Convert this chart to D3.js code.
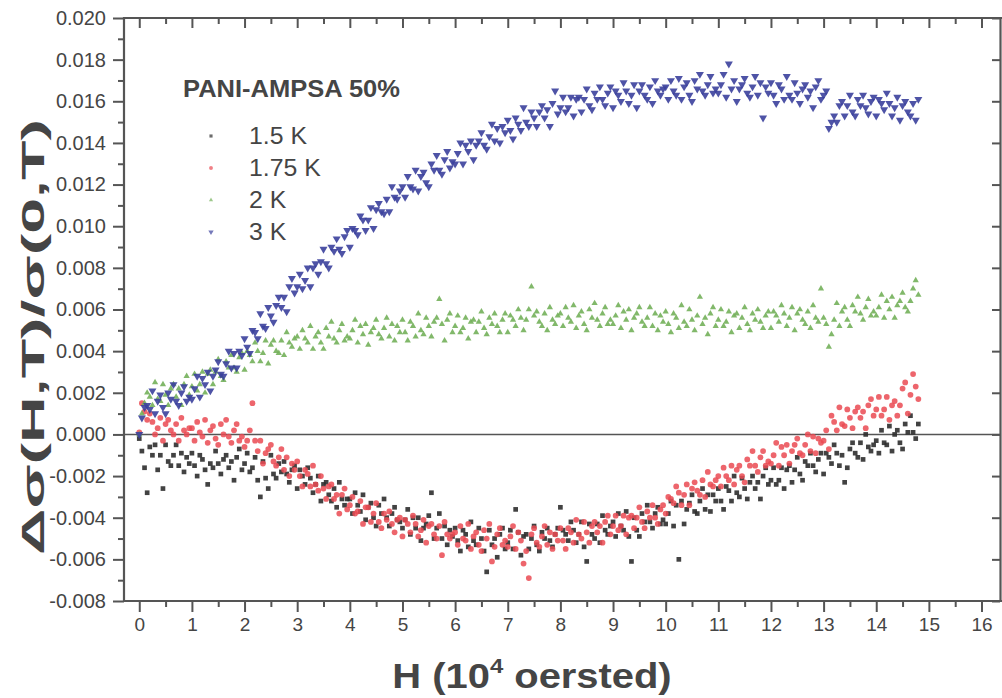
<!DOCTYPE html>
<html><head><meta charset="utf-8">
<script src="https://cdn.jsdelivr.net/npm/d3@7"></script>
<style>
html,body{margin:0;padding:0;background:#fff;}
svg{display:block;font-family:"Liberation Sans",Arial,sans-serif;}
</style></head>
<body><svg id="chart" width="1002" height="698"></svg>
<script>
// Magnetic field H (10^4 oersted)
const fieldH = [
0,0.05,0.1,0.15,0.2,0.25,0.3,0.35,0.4,0.45,0.5,0.55,0.6,0.65,0.7,0.75,0.8,0.85,0.9,0.95,
1,1.05,1.1,1.15,1.2,1.25,1.3,1.35,1.4,1.45,1.5,1.55,1.6,1.65,1.7,1.75,1.8,1.85,1.9,1.95,
2,2.05,2.1,2.15,2.2,2.25,2.3,2.35,2.4,2.45,2.5,2.55,2.6,2.65,2.7,2.75,2.8,2.85,2.9,2.95,
3,3.05,3.1,3.15,3.2,3.25,3.3,3.35,3.4,3.45,3.5,3.55,3.6,3.65,3.7,3.75,3.8,3.85,3.9,3.95,
4,4.05,4.1,4.15,4.2,4.25,4.3,4.35,4.4,4.45,4.5,4.55,4.6,4.65,4.7,4.75,4.8,4.85,4.9,4.95,
5,5.05,5.1,5.15,5.2,5.25,5.3,5.35,5.4,5.45,5.5,5.55,5.6,5.65,5.7,5.75,5.8,5.85,5.9,5.95,
6,6.05,6.1,6.15,6.2,6.25,6.3,6.35,6.4,6.45,6.5,6.55,6.6,6.65,6.7,6.75,6.8,6.85,6.9,6.95,
7,7.05,7.1,7.15,7.2,7.25,7.3,7.35,7.4,7.45,7.5,7.55,7.6,7.65,7.7,7.75,7.8,7.85,7.9,7.95,
8,8.05,8.1,8.15,8.2,8.25,8.3,8.35,8.4,8.45,8.5,8.55,8.6,8.65,8.7,8.75,8.8,8.85,8.9,8.95,
9,9.05,9.1,9.15,9.2,9.25,9.3,9.35,9.4,9.45,9.5,9.55,9.6,9.65,9.7,9.75,9.8,9.85,9.9,9.95,
10,10.05,10.1,10.15,10.2,10.25,10.3,10.35,10.4,10.45,10.5,10.55,10.6,10.65,10.7,10.75,10.8,10.85,10.9,10.95,
11,11.05,11.1,11.15,11.2,11.25,11.3,11.35,11.4,11.45,11.5,11.55,11.6,11.65,11.7,11.75,11.8,11.85,11.9,11.95,
12,12.05,12.1,12.15,12.2,12.25,12.3,12.35,12.4,12.45,12.5,12.55,12.6,12.65,12.7,12.75,12.8,12.85,12.9,12.95,
13,13.05,13.1,13.15,13.2,13.25,13.3,13.35,13.4,13.45,13.5,13.55,13.6,13.65,13.7,13.75,13.8,13.85,13.9,13.95,
14,14.05,14.1,14.15,14.2,14.25,14.3,14.35,14.4,14.45,14.5,14.55,14.6,14.65,14.7,14.75,14.8
];

// Δσ(H,T)/σ(0,T) in units of 10^-3
const dSigma_1p5K = [
-0.2,-0.8,-1.6,-2.8,-0.6,-1.0,-0.5,-1.7,-1.0,-2.6,-0.5,-1.3,-1.5,-1.0,-0.5,-1.5,-0.9,-1.8,-1.1,-1.4,
-0.9,-1.5,-2.0,-1.0,-1.2,-1.7,-2.4,-1.4,-1.6,-0.8,-1.4,-1.9,-1.2,-1.0,-1.6,-1.3,-2.2,-1.1,-0.7,-1.7,
-1.4,-0.9,-1.8,-1.6,-1.1,-2.2,-3.0,-1.3,-2.1,-2.6,-1.0,-1.9,-2.1,-1.4,-1.8,-1.3,-1.9,-2.3,-1.7,-1.5,
-2.6,-1.7,-2.0,-2.4,-1.6,-2.1,-2.8,-2.4,-2.0,-3.2,-2.4,-2.3,-2.9,-3.2,-2.6,-3.5,-2.3,-3.1,-3.4,-3.1,
-3.1,-3.8,-2.8,-3.4,-3.7,-2.9,-4.1,-3.5,-3.3,-4.0,-4.4,-3.4,-3.8,-3.1,-4.0,-4.4,-3.8,-3.5,-4.1,-4.2,
-4.5,-4.1,-3.6,-4.8,-4.0,-4.5,-4.0,-5.1,-4.5,-4.3,-3.9,-2.8,-5.0,-4.5,-3.8,-5.0,-4.4,-5.3,-4.6,-4.9,
-4.5,-5.1,-5.6,-4.6,-4.8,-5.4,-4.2,-5.1,-5.3,-4.5,-5.0,-5.6,-6.6,-4.6,-5.3,-5.0,-5.9,-4.8,-4.5,-5.5,
-5.2,-4.6,-5.5,-3.6,-4.7,-5.8,-4.9,-4.8,-5.5,-5.0,-4.4,-5.3,-5.6,-4.7,-5.0,-4.5,-5.1,-5.4,-4.8,-4.5,
-3.5,-4.6,-4.8,-5.1,-4.2,-4.6,-5.2,-4.8,-4.2,-5.4,-6.1,-4.3,-4.8,-5.0,-4.3,-5.2,-3.9,-4.6,-4.8,-4.4,
-4.2,-4.9,-3.8,-4.4,-4.6,-3.7,-4.9,-6.1,-4.0,-4.6,-4.9,-3.8,-4.2,-3.4,-4.2,-4.5,-3.8,-3.5,-4.3,-4.1,
-4.3,-3.8,-3.2,-4.4,-3.4,-6.0,-3.2,-4.3,-3.6,-3.3,-2.9,-3.7,-3.8,-3.2,-2.6,-3.6,-2.9,-3.7,-2.9,-3.2,
-2.6,-3.2,-3.6,-2.5,-2.7,-3.2,-2.0,-2.8,-3.0,-2.1,-2.6,-3.1,-2.3,-2.0,-2.6,-2.3,-3.1,-2.0,-1.6,-2.4,
-2.2,-1.6,-2.4,-2.2,-1.6,-2.6,-1.7,-1.5,-2.3,-1.7,-1.1,-1.9,-2.2,-1.3,-1.5,-0.9,-1.5,-1.8,-1.2,-0.9,
-1.9,-0.9,-1.1,-1.4,-0.5,-0.9,-1.5,-1.0,-2.3,-1.6,-0.7,-0.4,-0.9,-1.1,-0.4,-1.2,0.0,-0.6,-0.8,-0.5,
-0.3,-0.9,0.2,-0.4,-0.5,0.4,-0.8,0.0,0.2,-0.4,-0.7,0.5,0.1,0.9,0.1,-0.2,0.5
];
const dSigma_1p75K = [
0.1,1.5,1.1,0.7,1.0,0.6,0.0,0.3,0.8,-0.3,0.5,0.7,0.2,0.0,0.5,-0.3,0.8,0.2,0.0,0.3,
0.3,-0.3,0.6,0.1,-0.1,0.7,-0.4,0.2,0.4,-0.2,-0.5,0.5,0.0,0.7,-0.1,-0.4,0.2,0.5,-0.3,-0.1,
-0.6,-0.3,0.2,1.5,-0.3,-0.8,-0.3,-1.4,-0.9,-0.7,-0.5,-1.3,-1.5,-1.1,-0.7,-1.7,-1.1,-2.0,-1.4,-1.7,
-1.3,-2.0,-2.5,-1.7,-1.9,-2.5,-1.5,-2.4,-2.7,-2.0,-2.6,-3.1,-2.5,-2.4,-3.1,-2.9,-3.8,-2.9,-2.6,-3.6,
-3.4,-3.0,-3.8,-3.7,-3.2,-4.3,-3.5,-3.5,-4.2,-3.8,-3.3,-4.2,-4.5,-3.8,-4.1,-3.7,-4.3,-4.7,-4.1,-4.0,
-4.9,-4.1,-4.3,-4.7,-3.9,-4.3,-4.9,-4.6,-4.1,-5.2,-4.4,-4.3,-4.8,-5.0,-4.4,-5.8,-4.2,-4.8,-5.0,-4.8,
-4.7,-5.3,-4.4,-5.0,-5.1,-4.3,-5.5,-4.9,-4.7,-5.3,-5.6,-4.6,-5.0,-4.3,-6.1,-5.4,-4.8,-4.5,-5.3,-5.1,
-5.4,-4.9,-4.4,-5.5,-4.7,-5.1,-6.2,-5.6,-6.9,-4.8,-4.5,-5.2,-5.4,-4.9,-4.4,-5.3,-4.7,-5.5,-4.8,-5.1,
-4.5,-5.1,-5.5,-4.5,-4.7,-5.2,-4.1,-4.8,-5.0,-4.2,-4.7,-5.2,-4.4,-4.2,-4.7,-4.4,-5.2,-4.2,-3.9,-4.8,
-4.4,-3.9,-4.6,-4.4,-3.9,-4.8,-4.0,-3.9,-4.5,-4.0,-3.5,-4.2,-4.5,-3.7,-4.0,-3.4,-4.0,-4.3,-3.6,-3.4,
-3.8,-3.0,-3.1,-3.3,-2.5,-2.8,-3.4,-2.9,-2.4,-3.4,-2.6,-2.3,-2.7,-2.9,-2.2,-3.0,-1.8,-2.4,-2.5,-2.2,
-2.0,-2.5,-1.6,-2.0,-2.2,-1.5,-2.4,-1.7,-1.5,-2.0,-2.3,-1.2,-1.5,-0.8,-1.5,-1.8,-1.1,-0.8,-1.5,-1.3,
-1.4,-1.0,-0.4,-1.5,-0.6,-1.0,-0.5,-1.4,-0.8,-0.5,-0.2,-0.9,-1.0,-0.5,0.0,-0.8,-0.1,-0.9,-0.2,-0.4,
-0.3,0.2,-0.7,0.9,0.6,0.2,1.3,0.5,0.4,1.2,0.8,0.3,1.1,1.3,0.8,1.1,0.3,1.4,1.7,0.9,
1.2,1.8,0.9,1.2,1.8,0.7,1.4,1.6,0.9,1.4,2.2,2.5,1.0,1.9,2.9,2.3,1.7
];
const dSigma_2K = [
0.0,1.0,1.5,2.0,1.8,1.4,2.5,1.7,1.6,2.4,1.9,1.4,2.2,2.4,1.8,2.2,1.4,2.4,2.8,1.9,
2.3,2.9,2.1,2.4,3.0,2.0,2.9,3.1,2.4,3.0,3.6,2.8,2.6,3.5,3.2,3.8,3.2,3.0,3.7,3.9,
3.1,4.0,3.8,3.5,4.4,4.0,3.5,3.9,4.5,3.4,4.3,4.5,4.0,3.9,4.5,3.8,4.9,4.4,4.2,4.6,
4.7,4.1,5.0,4.6,4.4,5.2,4.1,4.7,4.9,4.4,4.1,5.1,4.7,5.4,4.6,4.4,5.0,5.3,4.5,4.7,
4.6,5.0,5.5,4.4,5.2,4.8,5.3,4.3,4.9,5.1,5.5,4.8,4.6,5.1,5.6,4.7,5.3,4.5,5.2,4.9,
5.5,4.9,4.5,5.4,5.2,4.7,5.8,5.0,4.8,5.6,5.2,4.7,5.4,5.6,6.5,5.3,4.5,5.5,5.8,4.9,
5.2,5.7,4.9,5.1,5.6,4.6,5.4,5.5,4.9,5.4,5.9,5.1,4.8,5.6,5.3,5.8,5.2,4.9,5.5,5.8,
4.9,5.7,5.5,5.2,6.0,5.6,5.0,5.5,6.0,7.1,5.7,5.9,5.4,5.2,5.8,5.0,6.1,5.5,5.3,5.7,
5.8,5.2,6.1,5.6,5.4,6.2,5.1,5.7,5.9,5.3,5.0,6.0,5.6,6.3,5.5,5.2,5.8,6.1,5.3,5.5,
5.3,5.7,6.2,5.1,5.9,5.5,6.0,5.0,5.6,5.8,6.1,5.4,5.2,5.6,6.1,5.2,5.8,5.0,5.7,5.4,
5.9,5.3,4.9,5.8,5.6,5.1,6.2,5.4,5.2,6.0,5.5,5.0,5.7,6.6,5.3,5.6,4.8,5.8,6.1,5.2,
5.5,6.0,5.2,5.4,5.9,4.9,5.7,5.8,5.1,5.6,6.1,5.3,5.0,5.8,5.5,6.0,5.4,5.1,5.7,5.9,
5.1,5.9,5.7,5.4,6.2,5.8,5.2,5.6,6.1,5.0,5.8,6.0,5.5,5.3,5.9,5.1,6.2,5.6,5.4,7.0,
5.6,5.3,4.2,4.8,5.5,6.3,5.2,5.9,6.1,5.5,5.2,6.2,5.9,6.6,5.8,5.5,6.1,6.5,5.7,5.9,
5.7,6.1,6.7,5.6,6.4,6.0,6.6,5.6,6.2,6.4,6.8,6.1,5.9,6.4,7.0,7.4,6.7
];
const dSigma_3K = [
0.0,0.8,1.3,1.4,1.2,2.1,1.0,1.6,1.9,1.3,1.0,2.0,1.7,2.4,1.6,1.4,2.0,2.3,1.6,1.8,
1.7,2.2,2.8,1.8,2.7,2.4,3.0,2.1,2.8,3.1,3.5,2.9,2.8,3.4,4.0,3.2,3.9,3.2,4.0,3.8,
4.6,4.2,3.9,5.0,4.9,4.6,5.8,5.2,5.1,6.1,5.7,5.4,6.2,6.6,6.1,6.6,5.9,7.1,7.5,6.8,
7.1,7.7,7.0,7.4,8.0,7.1,8.0,8.2,7.7,8.3,8.9,8.2,8.0,9.0,8.8,9.4,8.9,8.7,9.5,9.8,
9.0,9.9,9.8,9.6,10.5,10.3,9.8,10.3,10.9,9.9,10.8,11.1,10.7,10.6,11.3,10.7,11.9,11.4,11.3,11.7,
11.9,11.4,12.4,11.9,11.8,12.7,11.7,12.4,12.6,12.1,11.9,13.0,12.7,13.4,12.7,12.5,13.2,13.6,12.8,13.1,
13.0,13.5,14.0,13.0,13.9,13.6,14.1,13.2,13.9,14.1,14.5,13.9,13.7,14.3,14.9,14.1,14.7,14.0,14.8,14.5,
15.1,14.6,14.2,15.2,14.9,14.6,15.7,15.0,14.8,15.5,15.2,14.8,15.5,15.8,15.2,15.6,14.8,15.9,16.5,15.4,
15.7,16.2,15.5,15.7,16.2,15.3,16.1,16.2,15.5,16.1,16.6,15.8,15.6,16.4,16.1,16.7,16.1,15.8,16.4,16.7,
15.7,16.5,16.3,16.0,16.9,16.5,15.9,16.3,16.8,15.7,16.5,16.8,16.3,16.1,16.7,15.9,17.0,16.5,16.3,16.6,
16.7,16.1,17.0,16.5,16.3,17.1,16.1,16.7,16.9,16.3,16.0,17.0,16.6,17.3,16.5,16.3,16.8,17.2,16.4,16.6,
16.4,16.8,17.3,16.2,17.8,16.6,17.0,16.0,16.6,16.8,17.1,16.4,16.2,16.7,17.2,16.3,16.9,15.2,16.7,16.4,
16.9,16.3,15.9,16.8,16.6,16.1,17.2,16.3,16.1,16.9,16.4,15.9,16.6,16.8,16.2,16.5,15.7,16.7,17.0,16.1,
16.3,16.5,14.7,15.0,15.3,15.0,15.8,16.0,15.3,15.8,16.3,15.5,15.3,16.1,15.8,16.3,15.7,15.4,16.0,16.2,
15.3,16.1,15.9,15.6,16.4,15.9,15.3,15.7,16.2,15.1,15.8,16.0,15.5,15.3,15.9,15.1,16.1
];

const seriesNames = ["1.5 K", "1.75 K", "2 K", "3 K"];
const xTickValues = [0,1,2,3,4,5,6,7,8,9,10,11,12,13,14,15,16];
const yTickValues = [-0.008,-0.006,-0.004,-0.002,0,0.002,0.004,0.006,0.008,0.010,0.012,0.014,0.016,0.018,0.020];
const yTickLabels = ["-0.008","-0.006","-0.004","-0.002","0.000","0.002","0.004","0.006","0.008","0.010","0.012","0.014","0.016","0.018","0.020"];
const legendTitle = "PANI-AMPSA 50%";

const svg = d3.select("#chart");
svg.append("rect").attr("width",1002).attr("height",698).attr("fill","#fff");

const x = d3.scaleLinear().domain([-0.29, 16.37]).range([124, 1001]);
const y = d3.scaleLinear().domain([-0.008, 0.020]).range([601, 18]);

const axisColor = "#555";
const textColor = "#454545";

// series styles
const styles = [
  {data: dSigma_1p5K, sym: d3.symbolSquare, size: 22, rot: 0, color: "#2e2e2e", op: 0.9},
  {data: dSigma_1p75K, sym: d3.symbolCircle, size: 26, rot: 0, color: "#ea4a52", op: 0.85},
  {data: dSigma_2K, sym: d3.symbolTriangle, size: 17, rot: 0, color: "#73b05a", op: 0.9},
  {data: dSigma_3K, sym: d3.symbolTriangle, size: 28, rot: 180, color: "#3b409c", op: 0.9}
];

// zero line
svg.append("line").attr("x1", x.range()[0]).attr("x2", x.range()[1])
  .attr("y1", y(0)).attr("y2", y(0)).attr("stroke", "#555").attr("stroke-width", 1.6);

// points
styles.forEach(s => {
  const pts = fieldH.map((h, i) => ({h, v: s.data[i]})).filter(d => d.v !== undefined);
  svg.append("g").selectAll("path").data(pts).join("path")
    .attr("d", d3.symbol().type(s.sym).size(s.size))
    .attr("transform", d => `translate(${x(d.h)},${y(d.v / 1000)}) rotate(${s.rot})`)
    .attr("fill", s.color).attr("fill-opacity", s.op);
});

// axes
const minorX = d3.range(0, 16.01, 0.5).filter(v => v % 1 !== 0);
const minorY = d3.range(-0.007, 0.0201, 0.002);

function styleAxis(g) {
  g.select(".domain").remove();
  g.selectAll("line").attr("stroke", axisColor).attr("stroke-width", 2);
  g.selectAll("text").attr("fill", textColor);
}

// bottom
svg.append("g").attr("transform", "translate(0,601)")
  .call(d3.axisBottom(x).tickValues(xTickValues).tickSize(11).tickPadding(6).tickFormat(d3.format("d")))
  .call(styleAxis).call(g => g.selectAll("text").attr("font-size", 19).attr("font-family", "Liberation Sans, Arial, sans-serif"));
svg.append("g").attr("transform", "translate(0,601)")
  .call(d3.axisBottom(x).tickValues(minorX).tickSize(6).tickFormat(""))
  .call(styleAxis);
// top (inward)
svg.append("g").attr("transform", "translate(0,18)")
  .call(d3.axisBottom(x).tickValues(xTickValues).tickSize(10).tickFormat(""))
  .call(styleAxis);
svg.append("g").attr("transform", "translate(0,18)")
  .call(d3.axisBottom(x).tickValues(minorX).tickSize(6).tickFormat(""))
  .call(styleAxis);
// left
svg.append("g").attr("transform", "translate(124,0)")
  .call(d3.axisLeft(y).tickValues(yTickValues).tickSize(11).tickPadding(7).tickFormat((d, i) => yTickLabels[i]))
  .call(styleAxis).call(g => g.selectAll("text").attr("font-size", 20).attr("font-family", "Liberation Sans, Arial, sans-serif"));
svg.append("g").attr("transform", "translate(124,0)")
  .call(d3.axisLeft(y).tickValues(minorY).tickSize(6).tickFormat(""))
  .call(styleAxis);
// right (inward, major only)
svg.append("g").attr("transform", "translate(1000,0)")
  .call(d3.axisLeft(y).tickValues(yTickValues).tickSize(8).tickFormat(""))
  .call(styleAxis);

// frame lines
const frame = svg.append("g").attr("stroke", axisColor).attr("stroke-width", 2.2);
frame.append("line").attr("x1", 124).attr("x2", 124).attr("y1", 17).attr("y2", 602);
frame.append("line").attr("x1", 123).attr("x2", 1002).attr("y1", 601).attr("y2", 601);
frame.append("line").attr("x1", 123).attr("x2", 1002).attr("y1", 18).attr("y2", 18);
frame.append("line").attr("x1", 1000.5).attr("x2", 1000.5).attr("y1", 17).attr("y2", 602);

// axis titles
svg.append("g").attr("transform", "translate(532,688) scale(1.14,1)")
  .append("text").attr("text-anchor", "middle")
  .attr("font-size", 35).attr("font-weight", "bold").attr("fill", textColor)
  .call(t => {
    t.append("tspan").text("H (10");
    t.append("tspan").attr("font-size", 21).attr("dy", -15).text("4");
    t.append("tspan").attr("dy", 15).text(" oersted)");
  });
svg.append("text").attr("transform", "translate(44,337) rotate(-90)").attr("text-anchor", "middle")
  .attr("font-size", 32).attr("font-weight", "bold").attr("fill", textColor)
  .attr("textLength", 436).attr("lengthAdjust", "spacingAndGlyphs")
  .text("Δσ(H,T)/σ(0,T)");

// legend
svg.append("text").attr("x", 183).attr("y", 97).attr("font-size", 23).attr("font-weight", "bold")
  .attr("textLength", 217).attr("lengthAdjust", "spacingAndGlyphs")
  .attr("fill", textColor).text(legendTitle);
const legendY = [136, 168, 200, 232];
seriesNames.forEach((name, i) => {
  const s = styles[i];
  svg.append("path").attr("d", d3.symbol().type(s.sym).size(s.size * 0.45))
    .attr("transform", `translate(211,${legendY[i]}) rotate(${s.rot})`)
    .attr("fill", s.color).attr("fill-opacity", 0.7);
  svg.append("text").attr("transform", `translate(249,${legendY[i]}) scale(1.08,1)`).attr("dy", "0.36em")
    .attr("font-size", 23).attr("fill", textColor).text(name);
});
</script></body></html>
